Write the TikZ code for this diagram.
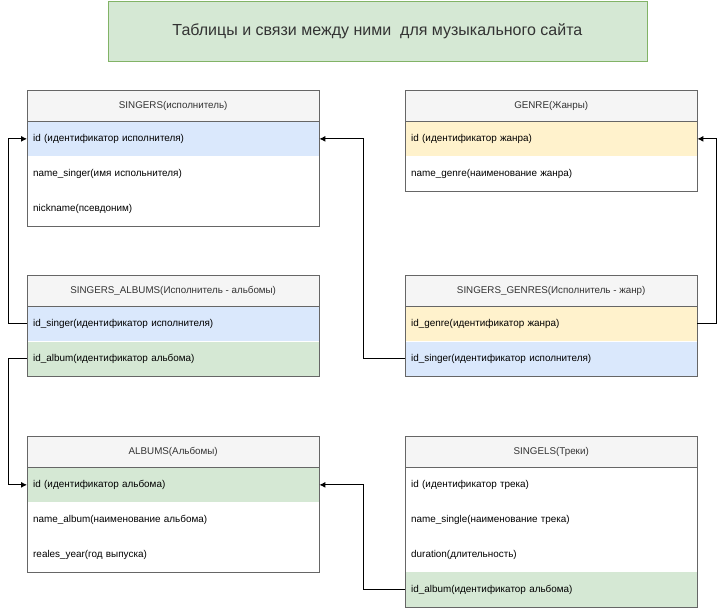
\documentclass[tikz,border=0pt]{standalone}
\usepackage{fontspec}
\setmainfont{Liberation Sans}
\usetikzlibrary{arrows.meta}
\definecolor{hdrfill}{HTML}{F5F5F5}
\definecolor{bluefill}{HTML}{DAE8FC}
\definecolor{yellowfill}{HTML}{FFF2CC}
\definecolor{greenfill}{HTML}{D5E8D4}
\definecolor{greenline}{HTML}{82B366}
\definecolor{tblline}{HTML}{666666}
\definecolor{txtgray}{HTML}{333333}
\begin{document}
\begin{tikzpicture}[x=1pt,y=-1pt,
  hdr/.style={fill=hdrfill, minimum width=292pt, minimum height=31pt, anchor=north west, inner sep=0pt, font=\fontsize{9.8}{11}\selectfont, text=txtgray},
  rowbox/.style={minimum height=34.5pt, text width=280pt, inner xsep=6pt, inner ysep=0pt, anchor=north west, align=left, font=\fontsize{9.9}{11}\selectfont, text=black},
  tbl/.style={draw=tblline, line width=0.7pt},
  link/.style={draw=black, line width=0.9pt, -{Latex[length=6pt,width=6pt]}}
]
\useasboundingbox (0,0) rectangle (726,611);
% title
\node[fill=greenfill, draw=greenline, line width=0.8pt, minimum width=539pt, minimum height=60pt, anchor=north west, inner sep=0pt, font=\fontsize{16}{19}\selectfont, text=txtgray] (title) at (107.5,1) {Таблицы и связи между ними \ для музыкального сайта};

% SINGERS
\node[hdr] (s0) at (27,90) {SINGERS(исполнитель)};
\node[rowbox, fill=bluefill] (s1) at (s0.south west) {id (идентификатор исполнителя)};
\node[rowbox] (s2) at (s1.south west) {name\_singer(имя испольнителя)};
\node[rowbox] (s3) at (s2.south west) {nickname(псевдоним)};
\draw[tbl] (s0.north west) rectangle (s3.south east);
\draw[tbl] (s0.south west) -- (s0.south east);

% GENRE
\node[hdr] (g0) at (405,90) {GENRE(Жанры)};
\node[rowbox, fill=yellowfill] (g1) at (g0.south west) {id (идентификатор жанра)};
\node[rowbox] (g2) at (g1.south west) {name\_genre(наименование жанра)};
\draw[tbl] (g0.north west) rectangle (g2.south east);
\draw[tbl] (g0.south west) -- (g0.south east);

% SINGERS_ALBUMS
\node[hdr] (a0) at (27,275) {SINGERS\_ALBUMS(Исполнитель - альбомы)};
\node[rowbox, fill=bluefill] (a1) at (a0.south west) {id\_singer(идентификатор исполнителя)};
\node[rowbox, fill=greenfill] (a2) at (a1.south west) {id\_album(идентификатор альбома)};
\draw[tbl] (a0.north west) rectangle (a2.south east);
\draw[tbl] (a0.south west) -- (a0.south east);

% SINGERS_GENRES
\node[hdr] (sg0) at (405,275) {SINGERS\_GENRES(Исполнитель - жанр)};
\node[rowbox, fill=yellowfill] (sg1) at (sg0.south west) {id\_genre(идентификатор жанра)};
\node[rowbox, fill=bluefill] (sg2) at (sg1.south west) {id\_singer(идентификатор исполнителя)};
\draw[tbl] (sg0.north west) rectangle (sg2.south east);
\draw[tbl] (sg0.south west) -- (sg0.south east);

% ALBUMS
\node[hdr] (al0) at (27,436) {ALBUMS(Альбомы)};
\node[rowbox, fill=greenfill] (al1) at (al0.south west) {id (идентификатор альбома)};
\node[rowbox] (al2) at (al1.south west) {name\_album(наименование альбома)};
\node[rowbox] (al3) at (al2.south west) {reales\_year(год выпуска)};
\draw[tbl] (al0.north west) rectangle (al3.south east);
\draw[tbl] (al0.south west) -- (al0.south east);

% SINGELS
\node[hdr] (t0) at (405,436) {SINGELS(Треки)};
\node[rowbox] (t1) at (t0.south west) {id (идентификатор трека)};
\node[rowbox] (t2) at (t1.south west) {name\_single(наименование трека)};
\node[rowbox] (t3) at (t2.south west) {duration(длительность)};
\node[rowbox, fill=greenfill] (t4) at (t3.south west) {id\_album(идентификатор альбома)};
\draw[tbl] (t0.north west) rectangle (t4.south east);
\draw[tbl] (t0.south west) -- (t0.south east);

% connectors
\draw[link] (a1.west) -- ++(-19,0) |- (s1.west);
\draw[link] (a2.west) -- ++(-19,0) |- (al1.west);
\draw[link] (sg2.west) -- ++(-42,0) |- (s1.east);
\draw[link] (sg1.east) -- ++(19,0) |- (g1.east);
\draw[link] (t4.west) -- ++(-42,0) |- (al1.east);
\end{tikzpicture}
\end{document}
